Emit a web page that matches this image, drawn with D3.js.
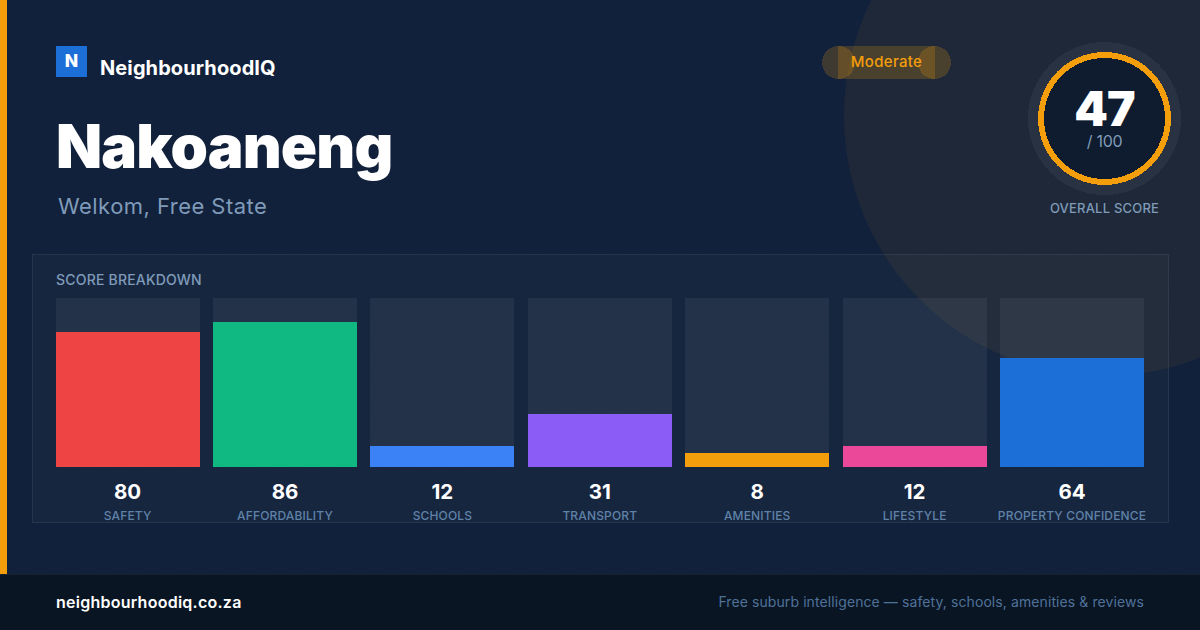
<!DOCTYPE html>
<meta charset="utf-8">
<style>
  html, body { margin: 0; padding: 0; background: #12213b; overflow: hidden; }
  svg { display: block; }
  text { font-family: Inter, sans-serif; }
</style>
<body>
<script src="https://d3js.org/d3.v7.min.js"></script>
<script>
  // chart values
  var categories = ["SAFETY", "AFFORDABILITY", "SCHOOLS", "TRANSPORT", "AMENITIES", "LIFESTYLE", "PROPERTY CONFIDENCE"];
  var scores = [80, 86, 12, 31, 8, 12, 64];
  var barColors = ["#ef4444", "#10b981", "#3b82f6", "#8b5cf6", "#f59e0b", "#ec4899", "#1d6fd8"];
  var overall = 47;

  var width = 1200, height = 630;
  var amber = "#f59e0b";
  var muted = "#7f9bb9";

  var svg = d3.select("body").append("svg")
    .attr("width", width)
    .attr("height", height);

  var defs = svg.append("defs");
  var dots = defs.append("pattern")
    .attr("id", "dots")
    .attr("patternUnits", "userSpaceOnUse")
    .attr("width", 32).attr("height", 32);
  dots.append("circle").attr("cx", 24).attr("cy", 24).attr("r", 1).attr("fill", "#fff").attr("fill-opacity", 0.03);

  // background
  svg.append("rect").attr("width", width).attr("height", height).attr("fill", "#12213b");
  svg.append("circle").attr("cx", 1104).attr("cy", 116).attr("r", 260).attr("fill", amber).attr("fill-opacity", 0.055);
  svg.append("rect").attr("width", width).attr("height", height).attr("fill", "url(#dots)");
  svg.append("rect").attr("width", 7).attr("height", 574).attr("fill", amber);

  // brand
  svg.append("rect").attr("x", 56).attr("y", 46).attr("width", 31).attr("height", 31).attr("fill", "#1d6fd8");
  svg.append("text").attr("x", 71.5).attr("y", 66.5).attr("text-anchor", "middle")
    .attr("font-size", 17.5).attr("font-weight", 800).attr("fill", "#fff").text("N");
  svg.append("text").attr("x", 100).attr("y", 74.5)
    .attr("font-size", 20).attr("font-weight", 700).attr("letter-spacing", 0.1).attr("fill", "#fff").text("NeighbourhoodIQ");

  // title
  svg.append("text").attr("x", 56).attr("y", 168)
    .attr("font-size", 60).attr("font-weight", 900).attr("letter-spacing", -0.85).attr("fill", "#fff").text("Nakoaneng");
  svg.append("text").attr("x", 58).attr("y", 214)
    .attr("font-size", 22).attr("font-weight", 400).attr("letter-spacing", 0.46).attr("fill", muted).text("Welkom, Free State");

  // moderate pill
  var pill = svg.append("g").attr("fill", amber).attr("fill-opacity", 0.2).attr("shape-rendering", "crispEdges");
  pill.append("rect").attr("x", 838).attr("y", 46).attr("width", 97).attr("height", 33);
  pill.append("circle").attr("cx", 838.5).attr("cy", 62.5).attr("r", 16.5);
  pill.append("circle").attr("cx", 934.5).attr("cy", 62.5).attr("r", 16.5);
  svg.append("text").attr("x", 886.5).attr("y", 67).attr("text-anchor", "middle")
    .attr("font-size", 15).attr("font-weight", 500).attr("letter-spacing", 0.3).attr("fill", amber).text("Moderate");

  // gauge
  var gauge = svg.append("g").attr("shape-rendering", "crispEdges");
  gauge.append("circle").attr("cx", 1104.5).attr("cy", 118.5).attr("r", 76.5).attr("fill", "#fff").attr("fill-opacity", 0.05);
  gauge.append("circle").attr("cx", 1104.5).attr("cy", 118.5).attr("r", 66.5).attr("fill", amber);
  gauge.append("circle").attr("cx", 1104.5).attr("cy", 118.5).attr("r", 60.5).attr("fill", "#0f1b2e");
  svg.append("text").attr("x", 1104.5).attr("y", 126).attr("text-anchor", "middle")
    .attr("font-size", 48).attr("font-weight", 900).attr("letter-spacing", -0.8).attr("fill", "#fff").text(overall);
  svg.append("text").attr("x", 1104.5).attr("y", 147).attr("text-anchor", "middle")
    .attr("font-size", 16).attr("letter-spacing", -0.3).attr("fill", muted).text("/ 100");
  svg.append("text").attr("x", 1104.5).attr("y", 213).attr("text-anchor", "middle")
    .attr("font-size", 13).attr("font-weight", 500).attr("letter-spacing", 0.2).attr("fill", muted).text("OVERALL SCORE");

  // breakdown panel
  svg.append("rect").attr("x", 32.5).attr("y", 254.5).attr("width", 1136).attr("height", 268)
    .attr("fill", "#fff").attr("fill-opacity", 0.025)
    .attr("stroke", "#fff").attr("stroke-opacity", 0.08);
  svg.append("text").attr("x", 56).attr("y", 285)
    .attr("font-size", 14).attr("font-weight", 500).attr("letter-spacing", 0.2).attr("fill", muted).text("SCORE BREAKDOWN");

  var x = d3.scaleBand().domain(categories).range([55.6, 1144]).paddingInner(0.0851);
  var y = d3.scaleLinear().domain([0, 100]).range([466, 298]);
  var baseline = 467;

  var col = svg.selectAll("g.col").data(categories).join("g").attr("class", "col");
  col.append("rect")
    .attr("x", d => x(d)).attr("y", y(100))
    .attr("width", x.bandwidth()).attr("height", baseline - y(100))
    .attr("fill", "#fff").attr("fill-opacity", 0.055)
    .attr("shape-rendering", "crispEdges");
  col.append("rect")
    .attr("x", d => x(d)).attr("y", (d, i) => y(scores[i]))
    .attr("width", x.bandwidth()).attr("height", (d, i) => baseline - y(scores[i]))
    .attr("fill", (d, i) => barColors[i])
    .attr("shape-rendering", "crispEdges");
  col.append("text")
    .attr("x", d => x(d) + x.bandwidth() / 2).attr("y", 499).attr("text-anchor", "middle")
    .attr("font-size", 20.5).attr("font-weight", 700).attr("fill", "#fff")
    .text((d, i) => scores[i]);
  col.append("text")
    .attr("x", d => x(d) + x.bandwidth() / 2).attr("y", 520).attr("text-anchor", "middle")
    .attr("font-size", 12).attr("font-weight", 500).attr("letter-spacing", 0.15).attr("fill", "#5f82a8")
    .text(d => d);

  // footer
  svg.append("rect").attr("y", 574).attr("width", width).attr("height", 56).attr("fill", "#0a1524");
  svg.append("rect").attr("y", 574).attr("width", width).attr("height", 1).attr("fill", "#fff").attr("fill-opacity", 0.05);
  svg.append("text").attr("x", 56).attr("y", 608)
    .attr("font-size", 16).attr("font-weight", 600).attr("letter-spacing", 0.25).attr("fill", "#fff").text("neighbourhoodiq.co.za");
  svg.append("text").attr("x", 1144).attr("y", 607).attr("text-anchor", "end")
    .attr("font-size", 14).attr("letter-spacing", 0.09).attr("fill", "#4f7299").text("Free suburb intelligence \u2014 safety, schools, amenities & reviews");
</script>
</body>
